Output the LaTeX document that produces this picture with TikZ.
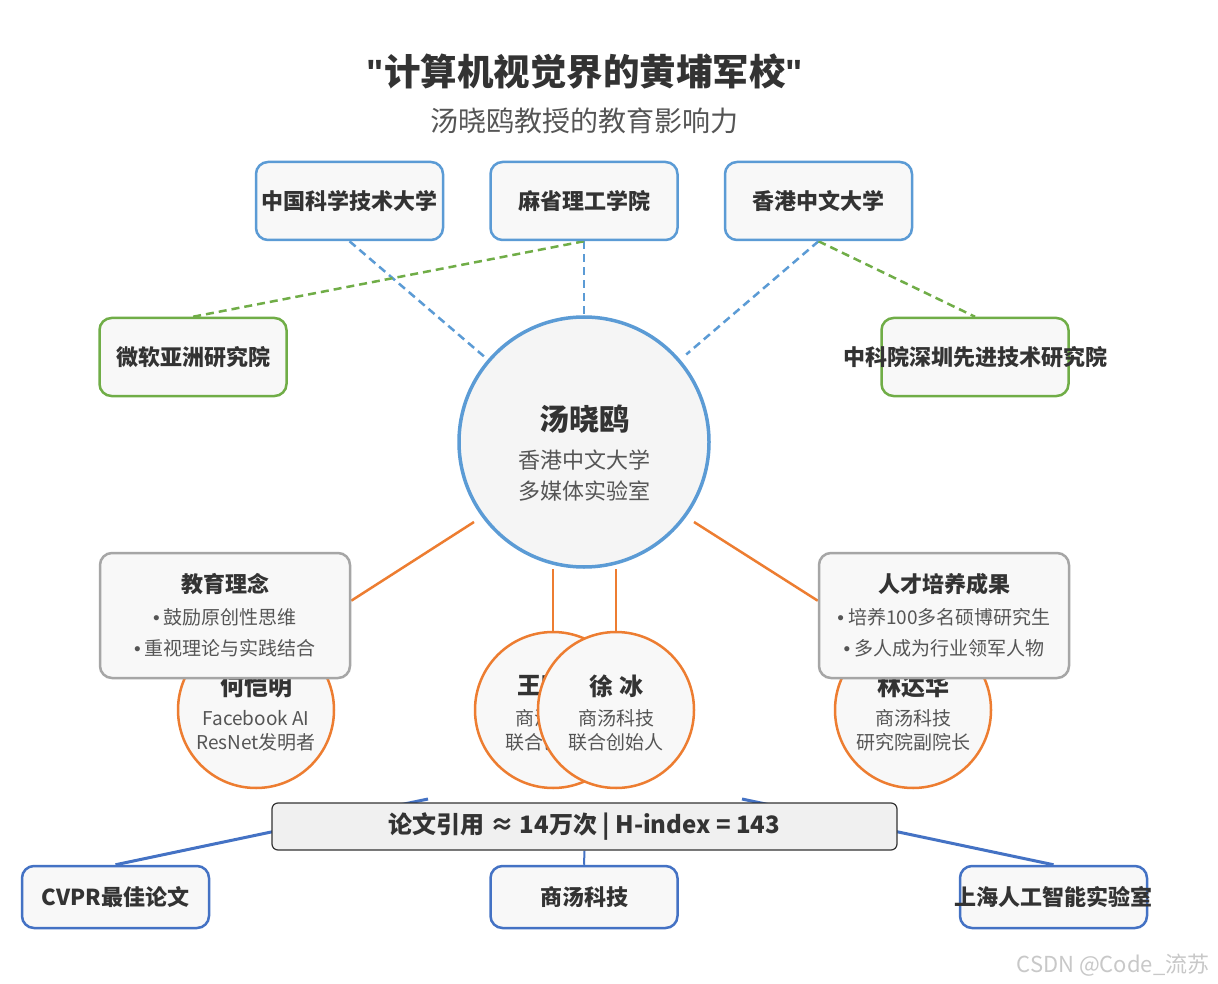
\documentclass[tikz,border=0pt]{standalone}
\usepackage{fontspec}
\setmainfont{Noto Sans CJK SC}
\newfontfamily\latinf{Liberation Sans}
\usetikzlibrary{calc}
\definecolor{txt}{HTML}{333333}
\definecolor{subc}{HTML}{555555}
\definecolor{tblue}{HTML}{5B9BD5}
\definecolor{tgreen}{HTML}{70AD47}
\definecolor{torange}{HTML}{ED7D31}
\definecolor{bblue}{HTML}{4472C4}
\definecolor{boxfill}{HTML}{F8F8F8}
\definecolor{circfill}{HTML}{F5F5F5}
\definecolor{citefill}{HTML}{F0F0F0}
\definecolor{gborder}{HTML}{A6A6A6}
\definecolor{wmark}{HTML}{C8C8C8}
\pgfdeclarelayer{back}
\pgfsetlayers{back,main}
\newcommand{\bul}{{\latinf •}\hspace{4pt}}
\newcommand{\dq}{{\latinf\bfseries "}}
\begin{document}
\begin{tikzpicture}[x=1pt,y=-1pt,
 inst/.style={draw=#1, line width=2.5pt, fill=boxfill, rounded corners=12pt, minimum width=187pt, minimum height=78pt, inner sep=0pt},
 lbl/.style={font=\fontsize{22}{26}\selectfont\bfseries, text=txt, inner sep=0pt},
 person/.style={circle, draw=torange, line width=2.5pt, fill=boxfill, minimum size=156pt, inner sep=0pt},
 pname/.style={font=\fontsize{24}{28}\selectfont\bfseries, text=txt, inner sep=0pt},
 pline/.style={font=\fontsize{19}{23}\selectfont, text=subc, inner sep=0pt},
 infobox/.style={draw=gborder, line width=2.5pt, fill=boxfill, rounded corners=12pt, minimum width=250pt, minimum height=125pt, inner sep=0pt},
 ititle/.style={font=\fontsize{22}{26}\selectfont\bfseries, text=txt, inner sep=0pt},
 iline/.style={font=\fontsize{19}{23}\selectfont, text=subc, inner sep=0pt},
 bluedash/.style={tblue, line width=2.5pt, dash pattern=on 8pt off 5pt},
 greendash/.style={tgreen, line width=2.5pt, dash pattern=on 8pt off 5pt},
 oline/.style={torange, line width=2.5pt},
 bline/.style={bblue, line width=3pt},
]
\useasboundingbox (0,0) rectangle (1218,984);
\begin{pgfonlayer}{back}
\fill[white] (0,0) rectangle (1218,984);
\end{pgfonlayer}

% title
\node[font=\fontsize{36.5}{42}\selectfont\bfseries, text=txt] (title) at (585,72) {\dq 计算机视觉界的黄埔军校\dq};
\node[font=\fontsize{28}{32}\selectfont, text=subc] (subtitle) at (584,121) {汤晓鸥教授的教育影响力};

% top institutions
\node[inst=tblue] (ustc) at (349.5,201) {};
\node[lbl] (ustcT) at (ustc) {中国科学技术大学};
\node[inst=tblue] (mit) at (584,201) {};
\node[lbl] (mitT) at (mit) {麻省理工学院};
\node[inst=tblue] (cuhk) at (818.5,201) {};
\node[lbl] (cuhkT) at (cuhk) {香港中文大学};
\node[inst=tgreen] (msra) at (193,357) {};
\node[lbl] (msraT) at (msra) {微软亚洲研究院};
\node[inst=tgreen] (siat) at (975,357) {};
\node[lbl] (siatT) at (siat) {中科院深圳先进技术研究院};

% center
\node[circle, draw=tblue, line width=3.5pt, fill=circfill, minimum size=250pt, inner sep=0pt] (tang) at (584,442) {};
\node[font=\fontsize{30}{34}\selectfont\bfseries, text=txt, inner sep=0pt] (tangN) at (584,419) {汤晓鸥};
\node[font=\fontsize{22}{26}\selectfont, text=subc, inner sep=0pt] (tangL1) at (584,460) {香港中文大学};
\node[font=\fontsize{22}{26}\selectfont, text=subc, inner sep=0pt] (tangL2) at (584,491) {多媒体实验室};

% students
\node[person] (he) at (256,710) {};
\node[pname] (heN) at (256,686) {何恺明};
\node[pline] (heL1) at (256,718) {Facebook AI};
\node[pline] (heL2) at (256,742) {ResNet发明者};
\node[person] (wang) at (553,710) {};
\node[pname] (wangN) at (553,686) {王晓刚};
\node[pline] (wangL1) at (553,718) {商汤科技};
\node[pline] (wangL2) at (553,742) {联合创始人};
\node[person] (xu) at (616,710) {};
\node[pname] (xuN) at (616,686) {徐\hspace{6pt}冰};
\node[pline] (xuL1) at (616,718) {商汤科技};
\node[pline] (xuL2) at (616,742) {联合创始人};
\node[person] (lin) at (913,710) {};
\node[pname] (linN) at (913,686) {林达华};
\node[pline] (linL1) at (913,718) {商汤科技};
\node[pline] (linL2) at (913,742) {研究院副院长};

% info boxes
\node[infobox] (edu) at (225,615.5) {};
\node[ititle] (eduT) at (225,584) {教育理念};
\node[iline] (eduL1) at (225,617) {\bul 鼓励原创性思维};
\node[iline] (eduL2) at (225,648) {\bul 重视理论与实践结合};
\node[infobox] (res) at (944,615.5) {};
\node[ititle] (resT) at (944,584) {人才培养成果};
\node[iline] (resL1) at (944,617) {\bul 培养100多名硕博研究生};
\node[iline] (resL2) at (944,648) {\bul 多人成为行业领军人物};

% bottom
\node[draw=txt, line width=1.2pt, fill=citefill, rounded corners=6pt, minimum width=625pt, minimum height=47pt, inner sep=0pt, font=\fontsize{24}{28}\selectfont\bfseries, text=txt] (cite) at (584.5,826.5) {论文引用 ≈ 14万次 | H-index = 143};
\node[inst=bblue, minimum height=62pt] (cvpr) at (115.5,897) {};
\node[lbl] (cvprT) at (cvpr) {CVPR最佳论文};
\node[inst=bblue, minimum height=62pt] (sense) at (584,897) {};
\node[lbl] (senseT) at (sense) {商汤科技};
\node[inst=bblue, minimum height=62pt] (shai) at (1053.5,897) {};
\node[lbl] (shaiT) at (shai) {上海人工智能实验室};

\node[font=\fontsize{22}{26}\selectfont, text=wmark, inner sep=0pt] (wm) at (1113,965) {CSDN @Code\_流苏};

% connectors
\coordinate (dL) at ($(ustc.south)!0.573!(tang.center)$);
\coordinate (dR) at ($(cuhk.south)!0.564!(tang.center)$);
\coordinate (oL) at (474,522);
\coordinate (oR) at (694,522);
\coordinate (eL) at ($(edu.north east)!0.384!(edu.south east)$);
\coordinate (eR) at ($(res.north west)!0.384!(res.south west)$);
\coordinate (bL) at (428,799);
\coordinate (bR) at (742,799);
\begin{pgfonlayer}{back}
\draw[bluedash] (ustc.south) -- (dL);
\draw[bluedash] (mit.south) -- (tang.north);
\draw[bluedash] (cuhk.south) -- (dR);
\draw[greendash] (mit.south) -- (msra.north);
\draw[greendash] (cuhk.south) -- (siat.north);
\draw[oline] (oL) -- (eL);
\draw[oline] (oR) -- (eR);
\draw[oline] (wang.north) -- (wang.north |- tang.south);
\draw[oline] (xu.north) -- (xu.north |- tang.south);
\draw[bline] (cvpr.north) -- (bL);
\draw[bline] (shai.north) -- (bR);
\draw[bline, line width=2pt] (sense.north) -- (cite.south);
\end{pgfonlayer}
\end{tikzpicture}
\end{document}
